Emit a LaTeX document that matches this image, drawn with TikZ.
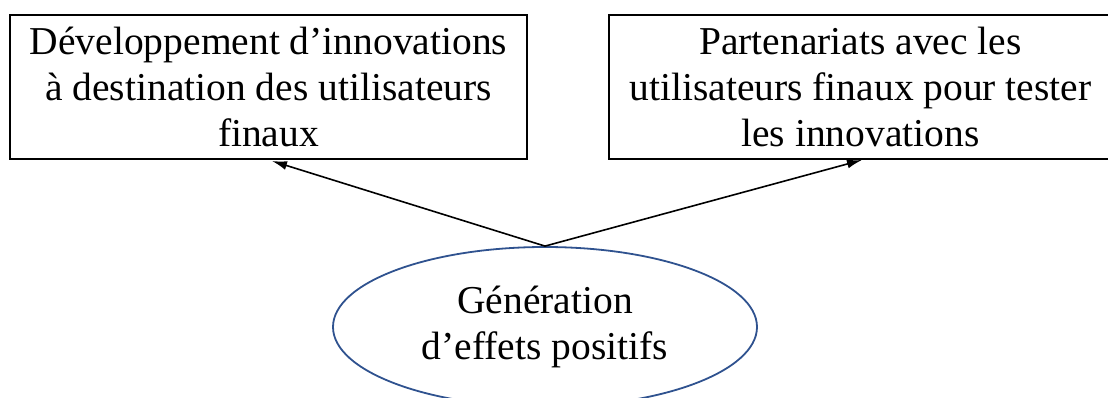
\documentclass[tikz,border=0pt]{standalone}
\usepackage{fontspec}
\setmainfont{Liberation Serif}
\usetikzlibrary{arrows.meta,shapes.geometric}
\definecolor{ellblue}{RGB}{47,82,143}
\tikzset{
  boite/.style={draw, line width=1.7pt, minimum height=144pt, inner sep=0pt, align=center},
  bulle/.style={draw=ellblue, line width=1.8pt, ellipse, minimum width=424pt, minimum height=160pt, inner sep=0pt, align=center},
  fleche/.style={-{Latex[length=15pt,width=9pt]}, line width=1.6pt}
}
\begin{document}
\begin{tikzpicture}[x=1pt,y=-1pt,font=\fontsize{39.5}{46}\selectfont]
 \useasboundingbox (0,0) rectangle (1108,398);
 \node[boite, minimum width=517pt] (devbox) at (268.5,87) {Développement d’innovations\\à destination des utilisateurs\\finaux};
 \node[boite, minimum width=503pt] (partbox) at (860.5,87) {Partenariats avec les\\utilisateurs finaux pour tester\\les innovations};
 \node[bulle] (generation) at (545,327) {Génération\\d’effets positifs};
 \coordinate (devin) at (272,161);
 \coordinate (partin) at (862,160);
 \draw[fleche] (generation.north) -- (devin);
 \draw[fleche] (generation.north) -- (partin);
\end{tikzpicture}
\end{document}
